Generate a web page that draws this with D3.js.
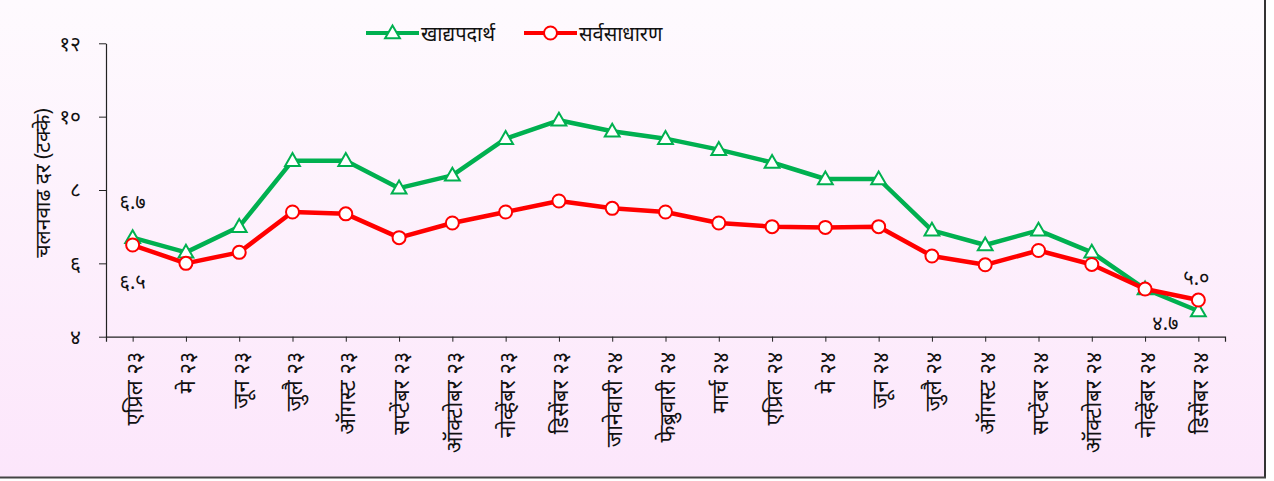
<!DOCTYPE html>
<html>
<head>
<meta charset="utf-8">
<script src="https://cdn.jsdelivr.net/npm/d3@7"></script>
<style>
  body { margin: 0; background: #fff; }
  text { font-family: "Noto Sans", "Noto Sans Devanagari", "Lohit Devanagari", sans-serif; fill: #111; }
</style>
</head>
<body>
<div id="chart-area"></div>
<script>
// months on the x axis
const months = ["एप्रिल २३", "मे २३", "जून २३", "जुलै २३", "ऑगस्ट २३", "सप्टेंबर २३", "ऑक्टोबर २३",
    "नोव्हेंबर २३", "डिसेंबर २३", "जानेवारी २४", "फेब्रुवारी २४", "मार्च २४", "एप्रिल २४", "मे २४",
    "जून २४", "जुलै २४", "ऑगस्ट २४", "सप्टेंबर २४", "ऑक्टोबर २४", "नोव्हेंबर २४", "डिसेंबर २४"];

// food inflation
const food = [6.7, 6.3, 7.0, 8.8, 8.8, 8.05, 8.4, 9.4, 9.9, 9.6, 9.4, 9.1, 8.75, 8.3, 8.3,
    6.9, 6.5, 6.9, 6.3, 5.3, 4.7];

// overall inflation
const overall = [6.5, 6.0, 6.3, 7.4, 7.35, 6.7, 7.1, 7.4, 7.7, 7.5, 7.4, 7.1, 7.0, 6.98, 7.0,
    6.2, 5.96, 6.35, 5.97, 5.3, 5.0];

const yTicks = [4, 6, 8, 10, 12];

const seriesNames = ["खाद्यपदार्थ", "सर्वसाधारण"];

const devDigits = "०१२३४५६७८९";
function toDev(s) {
    return String(s).replace(/[0-9]/g, d => devDigits[+d]);
}

const W = 1274, H = 481;
const margin = { top: 43.3, right: 49, bottom: 144.3, left: 106 };

const svg = d3.select("#chart-area")
    .append("svg")
    .attr("width", W)
    .attr("height", H);

// pinkish background
const defs = svg.append("defs");
const grad = defs.append("linearGradient")
    .attr("id", "bg")
    .attr("x1", 0).attr("y1", 0).attr("x2", 0).attr("y2", 1);
grad.append("stop").attr("offset", "0%").attr("stop-color", "#fefafe");
grad.append("stop").attr("offset", "100%").attr("stop-color", "#fce6fb");

svg.append("rect")
    .attr("x", 0).attr("y", 0)
    .attr("width", 1265).attr("height", 477)
    .attr("fill", "url(#bg)");

// frame lines on right and bottom
svg.append("line")
    .attr("x1", 1265).attr("x2", 1265).attr("y1", 0).attr("y2", 478)
    .attr("stroke", "#333").attr("stroke-width", 2);
svg.append("line")
    .attr("x1", 0).attr("x2", 1266).attr("y1", 477.5).attr("y2", 477.5)
    .attr("stroke", "#444").attr("stroke-width", 2);

const x = d3.scalePoint()
    .domain(months)
    .range([margin.left, W - margin.right])
    .padding(0.5);

const y = d3.scaleLinear()
    .domain([4, 12])
    .range([H - margin.bottom, margin.top]);

// x axis
const xAxis = svg.append("g")
    .attr("transform", `translate(0, ${y(4)})`)
    .call(d3.axisBottom(x).tickSizeOuter(0).tickSize(5));
xAxis.select(".domain").attr("stroke", "#222").attr("stroke-width", 1.2);
xAxis.selectAll(".tick line").attr("stroke", "#222");
xAxis.selectAll(".tick text")
    .attr("font-size", 22)
    .attr("fill", "#111")
    .attr("text-anchor", "end")
    .attr("dominant-baseline", "central")
    .attr("transform", "translate(0, 15) rotate(-90)")
    .attr("x", 0)
    .attr("y", 0)
    .attr("dy", null);

// y axis
const yAxis = svg.append("g")
    .attr("transform", `translate(${margin.left}, 0)`)
    .call(d3.axisLeft(y).tickValues(yTicks).tickFormat(toDev).tickSize(7).tickSizeOuter(0).tickPadding(18));
yAxis.select(".domain").attr("stroke", "#222").attr("stroke-width", 1.2);
yAxis.selectAll(".tick line").attr("stroke", "#222");
yAxis.selectAll(".tick text").attr("font-size", 21).attr("fill", "#111");

// y title
svg.append("text")
    .attr("transform", `translate(42, 183) rotate(-90)`)
    .attr("text-anchor", "middle")
    .attr("dominant-baseline", "central")
    .attr("font-size", 21)
    .text("चलनवाढ दर (टक्के)");

const line = d3.line()
    .x((d, i) => x(months[i]))
    .y(d => y(d));

const triangle = d3.symbol().type(d3.symbolTriangle).size(95);

// food series
svg.append("path")
    .datum(food)
    .attr("fill", "none")
    .attr("stroke", "#00b050")
    .attr("stroke-width", 4.5)
    .attr("stroke-linejoin", "round")
    .attr("d", line);

svg.selectAll(".tri")
    .data(food)
    .join("path")
    .attr("class", "tri")
    .attr("d", triangle)
    .attr("transform", (d, i) => `translate(${x(months[i])}, ${y(d) + 1})`)
    .attr("fill", "#fff")
    .attr("stroke", "#00b050")
    .attr("stroke-width", 2);

// overall series
svg.append("path")
    .datum(overall)
    .attr("fill", "none")
    .attr("stroke", "#ff0000")
    .attr("stroke-width", 4.5)
    .attr("stroke-linejoin", "round")
    .attr("d", line);

svg.selectAll(".dot")
    .data(overall)
    .join("circle")
    .attr("class", "dot")
    .attr("cx", (d, i) => x(months[i]))
    .attr("cy", d => y(d))
    .attr("r", 6.5)
    .attr("fill", "#fff")
    .attr("stroke", "#ff0000")
    .attr("stroke-width", 2);

// value labels at start and end
const last = months.length - 1;
const valueLabels = [
    { v: food[0], i: 0, dx: 0, dy: -36 },
    { v: overall[0], i: 0, dx: 0, dy: 36 },
    { v: overall[last], i: last, dx: -2, dy: -23 },
    { v: food[last], i: last, dx: -33, dy: 11 }
];
svg.selectAll(".vlabel")
    .data(valueLabels)
    .join("text")
    .attr("class", "vlabel")
    .attr("x", d => x(months[d.i]) + d.dx)
    .attr("y", d => y(d.v) + d.dy)
    .attr("text-anchor", "middle")
    .attr("dominant-baseline", "central")
    .attr("font-size", 20)
    .text(d => toDev(d.v.toFixed(1)));

// legend
const legend = svg.append("g").attr("transform", "translate(366, 33)");
const items = [
    { name: seriesNames[0], color: "#00b050", shape: "tri", x0: 0 },
    { name: seriesNames[1], color: "#ff0000", shape: "circle", x0: 158 }
];
items.forEach(it => {
    const g = legend.append("g").attr("transform", `translate(${it.x0}, 0)`);
    g.append("line")
        .attr("x1", 0).attr("x2", 53).attr("y1", 0).attr("y2", 0)
        .attr("stroke", it.color).attr("stroke-width", 4);
    if (it.shape === "tri") {
        g.append("path")
            .attr("d", triangle)
            .attr("transform", "translate(26.5, 1)")
            .attr("fill", "#fff").attr("stroke", it.color).attr("stroke-width", 2);
    } else {
        g.append("circle")
            .attr("cx", 26.5).attr("cy", 0).attr("r", 6.5)
            .attr("fill", "#fff").attr("stroke", it.color).attr("stroke-width", 2);
    }
    g.append("text")
        .attr("x", 55).attr("y", 0)
        .attr("dominant-baseline", "central")
        .attr("font-size", 20)
        .text(it.name);
});
</script>
</body>
</html>
